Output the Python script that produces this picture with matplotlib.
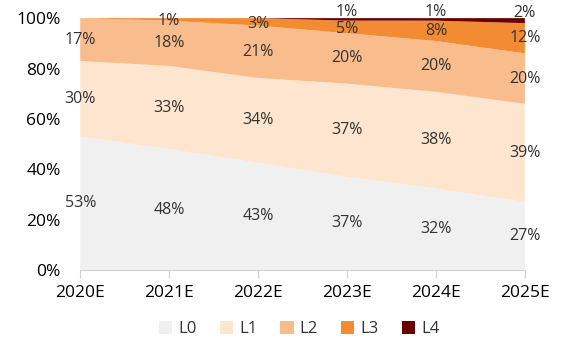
import matplotlib.pyplot as plt
import numpy as np

years = ['2020E', '2021E', '2022E', '2023E', '2024E', '2025E']
layers = ['L0', 'L1', 'L2', 'L3', 'L4']
l0 = [53, 48, 43, 37, 32, 27]
l1 = [30, 33, 34, 37, 38, 39]
l2 = [17, 18, 21, 20, 20, 20]
l3 = [0, 1, 3, 5, 8, 12]
l4 = [0, 0, 0, 1, 1, 2]
colors = ['#f0f0f0', '#fde5cf', '#f9bd8d', '#f38b32', '#6a0101']

plt.rcParams['font.family'] = ['Open Sans', 'DejaVu Sans']

data = np.array([l0, l1, l2, l3, l4], dtype=float)
share = data / data.sum(axis=0) * 100  # 100% stacked
x = np.arange(len(years))

fig = plt.figure(figsize=(5.73, 3.42), dpi=100)
ax = fig.add_axes([0.140, 0.2105, 0.776, 0.7365])

ax.stackplot(x, share, colors=colors, labels=layers)

# value labels in the middle of each band
bottom = np.zeros(len(years))
for i in range(len(layers)):
    for j in range(len(years)):
        if data[i, j] > 0:
            y = bottom[j] + share[i, j] / 2
            if i == 4:
                y += 3
            elif i == 3 and share[i, j] < 6:
                y -= 0.8
            ax.text(x[j], y, '%d%%' % data[i, j], ha='center', va='center',
                    fontsize=11.5, color='#333333')
    bottom += share[i]

ax.set_xlim(0, len(years) - 1)
ax.set_ylim(0, 100)
ax.set_xticks(x)
ax.set_xticklabels(years)
ax.set_yticks([0, 20, 40, 60, 80, 100])
ax.set_yticklabels(['%d%%' % v for v in [0, 20, 40, 60, 80, 100]])

for s in ['top', 'right', 'left']:
    ax.spines[s].set_visible(False)
ax.spines['bottom'].set_color('#d0d0d0')
ax.tick_params(axis='x', length=6, color='#d0d0d0', labelsize=12.5, pad=5, labelcolor='black')
ax.tick_params(axis='y', length=0, labelsize=12.5, pad=14)

leg = fig.legend(loc='lower center', ncol=5, frameon=False, fontsize=12,
                 bbox_to_anchor=(0.522, -0.03), handlelength=0.8, handleheight=0.8,
                 columnspacing=1.4, handletextpad=0.35)
for t in leg.get_texts():
    t.set_color('#333333')

fig.savefig('out.png', dpi=100)
